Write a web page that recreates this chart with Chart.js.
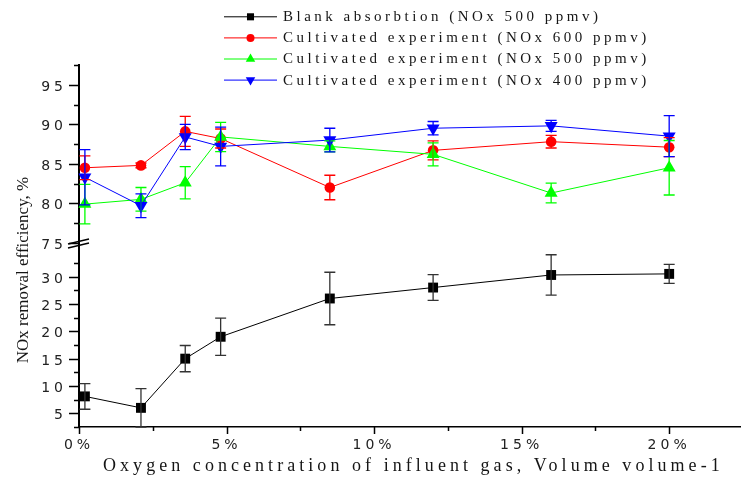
<!DOCTYPE html>
<html><head><meta charset="utf-8">
<script src="https://cdn.jsdelivr.net/npm/chart.js@4.4.1/dist/chart.umd.min.js"></script>
<style>html,body{margin:0;padding:0;background:#fff}#wrap{width:741px;height:486px;position:relative}</style>
</head><body><div id="wrap"><canvas id="c" width="741" height="486"></canvas></div>
<script>
// ---- data ----
const oxygen = [0.2, 2.1, 3.6, 4.8, 8.5, 12, 16, 20];
const blankNOx500 = [8.1, 6.0, 15.0, 19.0, 26.0, 28.0, 30.3, 30.5];
const blankNOx500Err = [2.35, 3.5, 2.4, 3.4, 4.8, 2.35, 3.7, 1.75];
const cultNOx600 = [84.5, 84.8, 89.1, 88.2, 82.0, 86.7, 87.8, 87.1];
const cultNOx600Err = [1.5, 0.3, 1.9, 1.2, 1.55, 1.2, 0.8, 1.2];
const cultNOx500 = [79.9, 80.5, 82.6, 88.4, 87.2, 86.2, 81.3, 84.5];
const cultNOx500Err = [2.5, 1.5, 2.05, 1.85, 0.7, 1.45, 1.25, 3.45];
const cultNOx400 = [83.3, 79.7, 88.4, 87.2, 88.0, 89.5, 89.8, 88.5];
const cultNOx400Err = [3.5, 1.5, 1.6, 2.45, 1.5, 0.85, 0.7, 2.6];
const seriesLabels = [
  'Blank absorbtion (NOx 500 ppmv)',
  'Cultivated experiment (NOx 600 ppmv)',
  'Cultivated experiment (NOx 500 ppmv)',
  'Cultivated experiment (NOx 400 ppmv)'
];
const xTicks = [0, 5, 10, 15, 20];
const xMinorTicks = [2.5, 7.5, 12.5, 17.5];
const yLowTicks = [5, 10, 15, 20, 25, 30];
const yLowMinorTicks = [2.5, 7.5, 12.5, 17.5, 22.5, 27.5, 32.5];
const yHighTicks = [75, 80, 85, 90, 95];
const yHighMinorTicks = [77.5, 82.5, 87.5, 92.5, 97.5];
const xTitle = 'Oxygen concentration of influent gas, Volume volume-1';
const yTitle = 'NOx removal efficiency, %';

// ---- styles ----
const styles = [
  {color: '#000000', err: '#333333', style: 'rect', r: 7, rot: 0, lr: 5, axis: 'y'},
  {color: '#ff0000', err: '#ff0000', style: 'circle', r: 5.3, rot: 0, lr: 4, axis: 'y2'},
  {color: '#00ff00', err: '#00ff00', style: 'triangle', r: 7.5, rot: 0, lr: 5.5, axis: 'y2'},
  {color: '#0000ff', err: '#0000ff', style: 'triangle', r: 7.5, rot: 180, lr: 5.5, axis: 'y2'}
];
const values = [blankNOx500, cultNOx600, cultNOx500, cultNOx400];
const errors = [blankNOx500Err, cultNOx600Err, cultNOx500Err, cultNOx400Err];

const datasets = values.map((vals, k) => ({
  label: seriesLabels[k],
  data: oxygen.map((x, i) => ({x: x, y: vals[i]})),
  errs: errors[k],
  errColor: styles[k].err,
  yAxisID: styles[k].axis,
  borderColor: styles[k].color,
  backgroundColor: styles[k].color,
  borderWidth: 1,
  pointStyle: styles[k].style,
  pointRadius: styles[k].r,
  pointRotation: styles[k].rot,
  pointBorderWidth: 0,
  pointBackgroundColor: styles[k].color,
  tension: 0,
  clip: false,
  order: 4 - k
}));

function drawMarker(ctx, st, r, rot, x, y) {
  ctx.beginPath();
  if (st === 'rect') { const s = r * Math.SQRT1_2; ctx.rect(x - s, y - s, 2 * s, 2 * s); }
  else if (st === 'circle') { ctx.arc(x, y, r, 0, Math.PI * 2); }
  else {
    let a = rot * Math.PI / 180;
    ctx.moveTo(x + Math.sin(a) * r, y - Math.cos(a) * r);
    a += 2 * Math.PI / 3; ctx.lineTo(x + Math.sin(a) * r, y - Math.cos(a) * r);
    a += 2 * Math.PI / 3; ctx.lineTo(x + Math.sin(a) * r, y - Math.cos(a) * r);
    ctx.closePath();
  }
  ctx.fill();
}

const customDraw = {
  id: 'customDraw',
  beforeDraw(chart) {
    chart.ctx.letterSpacing = '4px';
  },
  afterDatasetsDraw(chart) {
    const ctx = chart.ctx;
    ctx.save();
    ctx.lineWidth = 1.3;
    chart.data.datasets.forEach((ds) => {
      const ys = chart.scales[ds.yAxisID];
      const xs = chart.scales.x;
      ctx.strokeStyle = ds.errColor;
      ds.data.forEach((p, i) => {
        const px = xs.getPixelForValue(p.x);
        const yt = ys.getPixelForValue(p.y + ds.errs[i]);
        const yb = ys.getPixelForValue(p.y - ds.errs[i]);
        ctx.beginPath();
        ctx.moveTo(px, yt); ctx.lineTo(px, yb);
        ctx.moveTo(px - 5.5, yt); ctx.lineTo(px + 5.5, yt);
        ctx.moveTo(px - 5.5, yb); ctx.lineTo(px + 5.5, yb);
        ctx.stroke();
      });
    });
    ctx.restore();
  },
  afterDraw(chart) {
    const ctx = chart.ctx;
    const xs = chart.scales.x, yl = chart.scales.y, yh = chart.scales.y2;
    ctx.save();
    ctx.letterSpacing = '0px';
    ctx.strokeStyle = '#000';
    ctx.lineWidth = 1.5;
    // y tick marks (major + minor)
    const ax = yl.right;
    [[yl, yLowTicks, yLowMinorTicks], [yh, yHighTicks, yHighMinorTicks]].forEach(([s, maj, min]) => {
      ctx.beginPath();
      maj.forEach(v => { const y = Math.round(s.getPixelForValue(v)) + 0.5; ctx.moveTo(ax - 10, y); ctx.lineTo(ax, y); });
      min.forEach(v => { const y = Math.round(s.getPixelForValue(v)) + 0.5; ctx.moveTo(ax - 5, y); ctx.lineTo(ax, y); });
      ctx.stroke();
    });
    // x tick marks
    const by = xs.top;
    ctx.beginPath();
    xTicks.forEach(v => { const x = Math.round(xs.getPixelForValue(v)) + 0.5; ctx.moveTo(x, by); ctx.lineTo(x, by + 7); });
    xMinorTicks.forEach(v => { const x = Math.round(xs.getPixelForValue(v)) + 0.5; ctx.moveTo(x, by); ctx.lineTo(x, by + 4); });
    ctx.stroke();
    // axis break marks
    const b = yh.bottom;
    ctx.lineWidth = 1.5;
    ctx.beginPath();
    ctx.moveTo(ax - 11, b - 2); ctx.lineTo(ax + 10, b - 7);
    ctx.moveTo(ax - 11, b + 2); ctx.lineTo(ax + 10, b - 3);
    ctx.stroke();

    // legend
    ctx.textBaseline = 'middle';
    ctx.textAlign = 'left';
    ctx.font = '15px "Liberation Serif", "Times New Roman", serif';
    chart.data.datasets.forEach((ds, k) => {
      const st = styles[k];
      const ry = 16.8 + k * 21.1;
      ctx.letterSpacing = '0px';
      ctx.strokeStyle = st.color;
      ctx.lineWidth = 1;
      ctx.beginPath();
      ctx.moveTo(224, ry); ctx.lineTo(277, ry);
      ctx.stroke();
      ctx.fillStyle = st.color;
      drawMarker(ctx, st.style, st.lr, st.rot, 250.5, ry);
      ctx.fillStyle = '#151515';
      ctx.letterSpacing = '3.5px';
      ctx.fillText(ds.label, 283, ry + 0.5);
    });

    // x axis title
    ctx.fillStyle = '#151515';
    ctx.font = '18px "Liberation Serif", "Times New Roman", serif';
    ctx.letterSpacing = '4.05px';
    ctx.textAlign = 'left';
    ctx.fillText(xTitle, 103, 466.5);

    // y axis title
    ctx.letterSpacing = '0px';
    ctx.font = '17px "Liberation Serif", "Times New Roman", serif';
    ctx.translate(24, 270);
    ctx.rotate(-Math.PI / 2);
    ctx.textAlign = 'center';
    ctx.fillText(yTitle, 0, 0);
    ctx.restore();
  }
};

const tickFont = {family: '"DejaVu Sans", sans-serif', size: 14};

new Chart(document.getElementById('c'), {
  type: 'line',
  data: {datasets: datasets},
  options: {
    responsive: false,
    animation: false,
    devicePixelRatio: 1,
    layout: {autoPadding: false, padding: {top: 65, left: 0, right: 1, bottom: 0}},
    plugins: {legend: {display: false}, tooltip: {enabled: false}, title: {display: false}},
    scales: {
      x: {
        type: 'linear', position: 'bottom', min: 0, max: 22.4, bounds: 'data',
        afterBuildTicks: s => { s.ticks = xTicks.map(v => ({value: v})); },
        afterFit: s => { s.height = 59; s.paddingRight = 0; s.paddingLeft = 0; },
        grid: {display: false, drawTicks: false},
        border: {display: true, color: '#000', width: 1.5},
        ticks: {autoSkip: false, maxRotation: 0, padding: 9.5, color: '#222', font: tickFont,
          callback: v => v + '%'}
      },
      y: {
        type: 'linear', position: 'left', stack: 'yaxis', stackWeight: 1, weight: 1,
        min: 2.5, max: 35.6, bounds: 'data',
        afterBuildTicks: s => { s.ticks = yLowTicks.map(v => ({value: v})); },
        afterFit: s => { s.width = 79; s.paddingTop = 0; s.paddingBottom = 0; },
        grid: {display: false, drawTicks: false},
        border: {display: true, color: '#000', width: 2},
        ticks: {autoSkip: false, padding: 12, labelOffset: 2.3, color: '#222', font: tickFont}
      },
      y2: {
        type: 'linear', position: 'left', stack: 'yaxis', stackWeight: 1, weight: 2,
        min: 74.6, max: 97.5, bounds: 'data',
        afterBuildTicks: s => { s.ticks = yHighTicks.map(v => ({value: v})); },
        afterFit: s => { s.width = 79; s.paddingTop = 0; s.paddingBottom = 0; },
        grid: {display: false, drawTicks: false},
        border: {display: true, color: '#000', width: 2},
        ticks: {autoSkip: false, padding: 12, labelOffset: 2.3, color: '#222', font: tickFont}
      }
    }
  },
  plugins: [customDraw]
});
</script>
</body></html>
